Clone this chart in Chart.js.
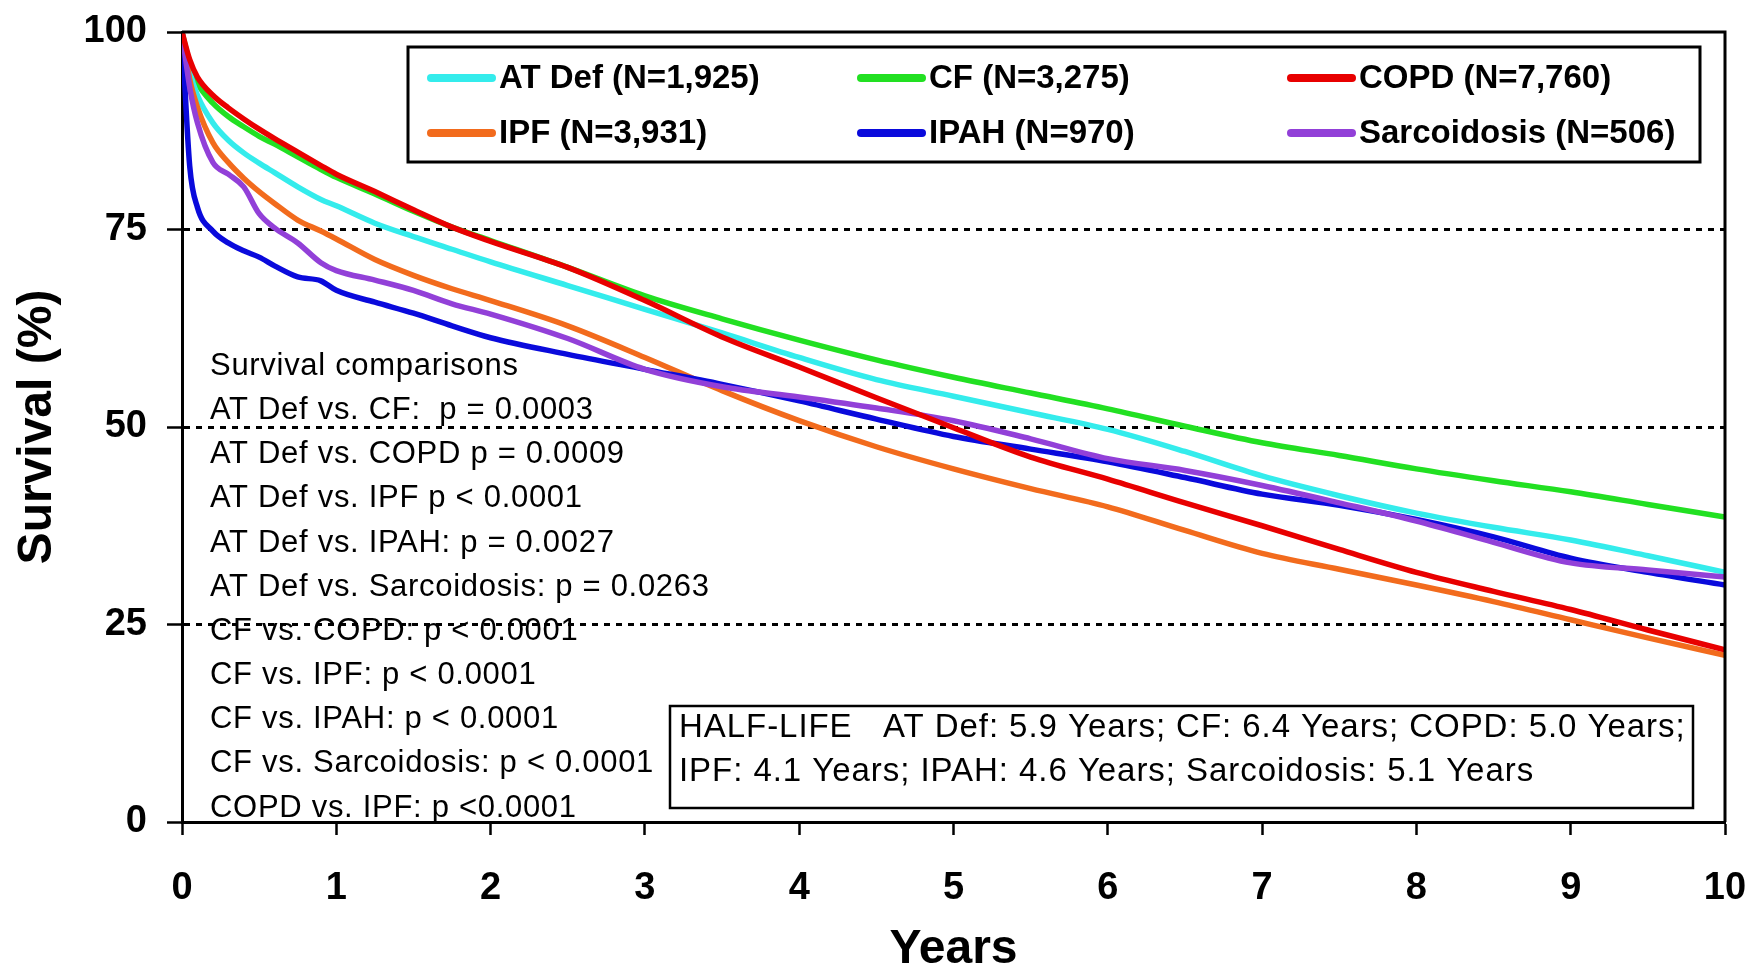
<!DOCTYPE html>
<html>
<head>
<meta charset="utf-8">
<script src="https://cdn.jsdelivr.net/npm/chart.js@4.4.1/dist/chart.umd.min.js"></script>
<style>
html,body{margin:0;padding:0;background:#fff;}
#wrap{position:relative;width:1752px;height:971px;}
</style>
</head>
<body>
<div id="wrap"><canvas id="c" width="1752" height="971"></canvas></div>
<script>
// ---- data ----
const years = [0, 0.05, 0.1, 0.2, 0.3, 0.4, 0.5, 0.6, 0.75, 0.9, 1, 1.25, 1.5, 1.75, 2, 2.5, 3, 3.5, 4, 4.5, 5, 5.5, 6, 6.5, 7, 7.5, 8, 8.5, 9, 9.5, 10];
const atDef = [100, 95, 92, 88.5, 86.3, 84.7, 83.4, 82.2, 80.4, 78.8, 78, 75.8, 74.1, 72.5, 70.9, 67.9, 64.9, 61.9, 58.8, 56.0, 53.9, 51.8, 49.7, 46.9, 43.8, 41.3, 39.1, 37.3, 35.7, 33.7, 31.6];
const cf = [100, 96, 93.5, 91, 89.3, 88, 86.8, 85.8, 84.2, 82.6, 81.6, 79.5, 77.3, 75.3, 73.6, 70.2, 66.6, 63.7, 61.0, 58.5, 56.3, 54.3, 52.3, 50.1, 48.0, 46.4, 44.7, 43.2, 41.8, 40.2, 38.6];
const copd = [100, 96.5, 94.3, 92, 90.4, 89, 87.7, 86.5, 84.8, 83.1, 82, 79.8, 77.5, 75.3, 73.5, 70.2, 66.0, 61.4, 57.6, 53.7, 49.9, 46.2, 43.4, 40.4, 37.5, 34.5, 31.6, 29.2, 26.9, 24.3, 21.8];
const ipf = [100, 94, 90.5, 86, 83.5, 81.5, 79.8, 78.3, 76.2, 74.8, 73.8, 71.2, 69.2, 67.5, 66.0, 62.8, 58.8, 54.6, 50.8, 47.5, 44.7, 42.2, 39.9, 36.9, 34.0, 32.0, 30.0, 27.9, 25.6, 23.3, 21.1];
const ipah = [100, 83, 77.8, 74.8, 73.3, 72.3, 71.5, 70.4, 69.0, 68.5, 67.3, 65.8, 64.4, 62.8, 61.3, 59.2, 57.3, 55.4, 53.3, 51.0, 48.8, 47.2, 45.6, 43.6, 41.5, 40.1, 38.3, 36.1, 33.4, 31.6, 30.0];
const sarc = [100, 93, 88.5, 83.5, 82.0, 80.4, 77.0, 75.2, 73.3, 70.8, 69.8, 68.6, 67.3, 65.6, 64.3, 61.2, 57.3, 55.1, 53.8, 52.4, 50.8, 48.5, 46.0, 44.5, 42.6, 40.4, 38.1, 35.4, 32.8, 31.9, 31.0];

const seriesLabels = ['AT Def (N=1,925)', 'CF (N=3,275)', 'COPD (N=7,760)', 'IPF (N=3,931)', 'IPAH (N=970)', 'Sarcoidosis (N=506)'];
const yTickValues = [0, 25, 50, 75, 100];
const xTickValues = [0, 1, 2, 3, 4, 5, 6, 7, 8, 9, 10];
const dottedLevels = [25, 50, 75];
const comparisons = [
  'Survival comparisons',
  'AT Def vs. CF:  p = 0.0003',
  'AT Def vs. COPD p = 0.0009',
  'AT Def vs. IPF p < 0.0001',
  'AT Def vs. IPAH: p = 0.0027',
  'AT Def vs. Sarcoidosis: p = 0.0263',
  'CF vs. COPD: p < 0.0001',
  'CF vs. IPF: p < 0.0001',
  'CF vs. IPAH: p < 0.0001',
  'CF vs. Sarcoidosis: p < 0.0001',
  'COPD vs. IPF: p <0.0001'
];
const halfLife = [
  'HALF-LIFE   AT Def: 5.9 Years; CF: 6.4 Years; COPD: 5.0 Years;',
  'IPF: 4.1 Years; IPAH: 4.6 Years; Sarcoidosis: 5.1 Years'
];

// ---- styles ----
const FONT = "'Liberation Sans', Arial, Helvetica, sans-serif";
const colors = ['#34ECEC', '#22E022', '#E80000', '#F26B1D', '#0A0ADC', '#9240D8'];
const drawOrder = [4, 5, 0, 3, 2, 1];
const seriesValues = [atDef, cf, copd, ipf, ipah, sarc];

const datasets = seriesValues.map((vals, i) => ({
  label: seriesLabels[i],
  data: years.map((yr, k) => ({x: yr, y: vals[k]})),
  borderColor: colors[i],
  backgroundColor: colors[i],
  borderWidth: 5.5,
  pointRadius: 0,
  fill: false,
  cubicInterpolationMode: 'monotone',
  order: drawOrder[i]
}));

const annotationsPlugin = {
  id: 'annots',
  beforeDraw(chart) {
    const {ctx, chartArea: a} = chart;
    ctx.save();
    ctx.fillStyle = '#000';
    ctx.font = '31px ' + FONT;
    ctx.letterSpacing = '0.7px';
    ctx.textBaseline = 'middle';
    ctx.textAlign = 'left';
    comparisons.forEach((t, i) => {
      ctx.fillText(t, a.left + 28, a.top + 334.5 + i * 44.15);
    });
    ctx.restore();
  },
  afterDraw(chart) {
    const {ctx, chartArea: a} = chart;
    ctx.save();
    // frame (top & right)
    ctx.strokeStyle = '#000';
    ctx.lineWidth = 3;
    ctx.beginPath();
    ctx.moveTo(a.left, a.top);
    ctx.lineTo(a.right, a.top);
    ctx.lineTo(a.right, a.bottom);
    ctx.stroke();

    // legend box
    const lx = a.left + 226, ly = a.top + 15, lw = 1292, lh = 115;
    ctx.fillStyle = '#fff';
    ctx.fillRect(lx, ly, lw, lh);
    ctx.lineWidth = 3;
    ctx.strokeRect(lx, ly, lw, lh);
    const colX = [20, 450, 880];
    const rowY = [31, 86];
    ctx.font = 'bold 33px ' + FONT;
    ctx.textBaseline = 'middle';
    ctx.textAlign = 'left';
    chart.data.datasets.forEach((ds, i) => {
      const cx = lx + colX[i % 3];
      const cy = ly + rowY[Math.floor(i / 3)];
      ctx.strokeStyle = ds.borderColor;
      ctx.lineWidth = 8;
      ctx.lineCap = 'round';
      ctx.beginPath();
      ctx.moveTo(cx + 3, cy);
      ctx.lineTo(cx + 64, cy);
      ctx.stroke();
      ctx.fillStyle = '#000';
      ctx.fillText(ds.label, cx + 71, cy + 1);
    });

    // half-life box
    const hx = a.left + 488, hy = a.top + 674, hw = 1023, hh = 102;
    ctx.fillStyle = '#fff';
    ctx.fillRect(hx, hy, hw, hh);
    ctx.strokeStyle = '#000';
    ctx.lineWidth = 2.5;
    ctx.lineCap = 'butt';
    ctx.strokeRect(hx, hy, hw, hh);
    ctx.fillStyle = '#000';
    ctx.font = '33px ' + FONT;
    ctx.letterSpacing = '0.95px';
    ctx.fillText(halfLife[0], hx + 9, hy + 22);
    ctx.fillText(halfLife[1], hx + 9, hy + 66);
    ctx.restore();
  }
};

new Chart(document.getElementById('c'), {
  type: 'line',
  data: {datasets},
  options: {
    responsive: false,
    animation: false,
    devicePixelRatio: 1,
    layout: {padding: {top: 32, right: 27, left: 0, bottom: 0}},
    plugins: {legend: {display: false}, tooltip: {enabled: false}},
    scales: {
      x: {
        type: 'linear',
        min: 0, max: 10,
        afterBuildTicks: s => { s.ticks = xTickValues.map(v => ({value: v})); },
        afterFit: s => { s.height = 149; s.paddingLeft = 0; s.paddingRight = 0; },
        ticks: {color: '#000', font: {family: FONT, size: 38, weight: 'bold'}, padding: 31, maxRotation: 0},
        grid: {drawOnChartArea: false, drawTicks: true, tickLength: 13, tickColor: '#000', tickWidth: 2.5},
        border: {color: '#000', width: 3},
        title: {display: true, text: 'Years', color: '#000', font: {family: FONT, size: 48, weight: 'bold', lineHeight: 0.9}, padding: 0}
      },
      y: {
        min: 0, max: 100,
        afterBuildTicks: s => { s.ticks = yTickValues.map(v => ({value: v})); },
        afterFit: s => { s.width = 182; s.paddingTop = 0; s.paddingBottom = 0; },
        ticks: {color: '#000', font: {family: FONT, size: 38, weight: 'bold'}, padding: 20},
        grid: {
          color: c => dottedLevels.includes(c.tick && c.tick.value) ? '#000' : 'rgba(0,0,0,0)',
          lineWidth: 3,
          tickLength: 15, tickColor: '#000', tickWidth: 2.5
        },
        border: {color: '#000', width: 3, dash: [6, 6]},
        title: {display: true, text: 'Survival (%)', color: '#000', font: {family: FONT, size: 48, weight: 'bold', lineHeight: 1.2}, padding: {top: 9, bottom: 0}}
      }
    }
  },
  plugins: [annotationsPlugin]
});
</script>
</body>
</html>
